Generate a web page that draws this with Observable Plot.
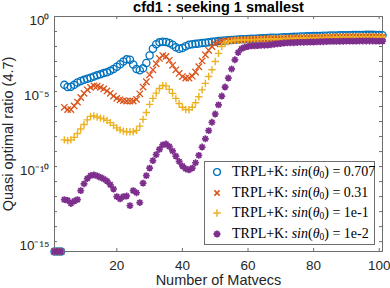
<!DOCTYPE html>
<html><head><meta charset="utf-8">
<script src="https://cdn.jsdelivr.net/npm/d3@7"></script>
<script src="https://cdn.jsdelivr.net/npm/@observablehq/plot@0.6"></script>
<style>
body{margin:0;background:#fff;}
#wrap{position:relative;width:390px;height:288px;overflow:hidden;}
#legend{position:absolute;left:204px;top:161px;width:171px;height:84px;border:1px solid #6e6e6e;background:#fff;font-family:"Liberation Serif","DejaVu Serif",serif;font-size:14px;color:#000;box-sizing:border-box;}
.row{position:absolute;left:0;height:20px;width:168px;}
.row svg{position:absolute;left:5px;top:3px;}
.row span{position:absolute;left:27px;top:1px;white-space:nowrap;line-height:18px;}
.row sub{font-size:9.5px;vertical-align:-2px;line-height:0;}
</style></head>
<body><div id="wrap"><div id="legend"></div></div>
<script>
const title = "cfd1 : seeking 1 smallest";
const xLabel = "Number of Matvecs";
const yLabel = "Quasi optimal ratio (4.7)";
const matvecs = d3.range(1, 102);
const xTicks = [20, 40, 60, 80, 100];
const yMajor = [1, 1e-5, 1e-10, 1e-15];
const yTickLabels = ["10⁰", "10⁻⁵", "10⁻¹⁰", "10⁻¹⁵"];
const yMinor = [1,1e-1,1e-2,1e-3,1e-4,1e-5,1e-6,1e-7,1e-8,1e-9,1e-10,1e-11,1e-12,1e-13,1e-14,1e-15];
const seriesNames = ["0.707", "0.31", "1e-1", "1e-2"];
const colors = ["#0072BD", "#D95319", "#EDB120", "#7E2F8E"];

const sin0707 = [2.2e-16,2.2e-16,2.2e-16,2.8e-5,2.0e-5,2.1e-5,2.8e-5,4.0e-5,5.0e-5,6.0e-5,
7.1e-5,8.3e-5,1.0e-4,1.2e-4,1.4e-4,1.7e-4,1.9e-4,2.4e-4,3.2e-4,4.5e-4,
6.6e-4,1.0e-3,1.4e-3,1.3e-3,6.3e-4,3.2e-4,2.6e-4,3.5e-4,7.9e-4,2.5e-3,
7.1e-3,1.4e-2,1.9e-2,2.1e-2,2.0e-2,1.7e-2,1.3e-2,8.9e-3,7.1e-3,7.9e-3,
1.05e-2,1.3e-2,1.4e-2,1.5e-2,1.6e-2,1.7e-2,1.8e-2,1.9e-2,2.1e-2,2.2e-2,
2.3e-2,2.4e-2,2.5e-2,2.6e-2,2.7e-2,2.8e-2,2.9e-2,3.0e-2,3.1e-2,3.2e-2,
3.3e-2,3.3e-2,3.4e-2,3.5e-2,3.6e-2,3.7e-2,3.8e-2,3.8e-2,3.9e-2,4.0e-2,
4.1e-2,4.2e-2,4.3e-2,4.4e-2,4.5e-2,4.6e-2,4.7e-2,4.8e-2,4.9e-2,5.0e-2,
5.1e-2,5.1e-2,5.2e-2,5.3e-2,5.4e-2,5.4e-2,5.5e-2,5.6e-2,5.6e-2,5.7e-2,
5.7e-2,5.8e-2,5.8e-2,5.9e-2,5.9e-2,6.0e-2,6.0e-2,6.0e-2,5.9e-2,5.8e-2,5.6e-2];

const sin031 = [2.2e-16,2.2e-16,2.2e-16,8.9e-7,6.3e-7,6.3e-7,1.1e-6,2.0e-6,4.0e-6,7.6e-6,
1.3e-5,1.9e-5,2.4e-5,2.3e-5,1.9e-5,1.5e-5,1.1e-5,7.6e-6,5.0e-6,3.5e-6,
2.8e-6,2.5e-6,2.3e-6,2.3e-6,2.3e-6,3.0e-6,7.1e-6,2.0e-5,4.5e-5,1.3e-4,
2.8e-4,7.1e-4,1.6e-3,2.5e-3,2.2e-3,1.2e-3,5.6e-4,2.8e-4,1.6e-4,1.0e-4,
7.9e-5,7.9e-5,1.05e-4,2.0e-4,4.5e-4,1.1e-3,2.8e-3,5.6e-3,1.0e-2,1.5e-2,
1.9e-2,2.2e-2,2.4e-2,2.5e-2,2.6e-2,2.7e-2,2.8e-2,2.8e-2,2.9e-2,3.0e-2,
3.0e-2,3.1e-2,3.1e-2,3.2e-2,3.2e-2,3.3e-2,3.3e-2,3.4e-2,3.4e-2,3.5e-2,
3.5e-2,3.6e-2,3.6e-2,3.7e-2,3.7e-2,3.8e-2,3.8e-2,3.9e-2,3.9e-2,4.0e-2,
4.0e-2,4.1e-2,4.1e-2,4.2e-2,4.2e-2,4.3e-2,4.3e-2,4.4e-2,4.4e-2,4.5e-2,
4.5e-2,4.5e-2,4.6e-2,4.6e-2,4.6e-2,4.6e-2,4.6e-2,4.6e-2,4.5e-2,4.5e-2,4.4e-2];

const sin1em1 = [2.2e-16,2.2e-16,2.2e-16,6.0e-9,5.4e-9,6.0e-9,8.9e-9,1.6e-8,3.2e-8,6.3e-8,
1.3e-7,2.2e-7,2.4e-7,2.0e-7,1.7e-7,1.5e-7,1.2e-7,8.5e-8,5.6e-8,3.8e-8,
2.8e-8,2.3e-8,2.1e-8,2.1e-8,2.1e-8,2.6e-8,5.0e-8,1.4e-7,4.0e-7,1.4e-6,
3.5e-6,7.9e-6,1.6e-5,2.5e-5,2.4e-5,1.4e-5,7.6e-6,3.5e-6,1.6e-6,8.9e-7,
6.3e-7,6.0e-7,8.9e-7,1.8e-6,4.5e-6,1.3e-5,3.5e-5,1.0e-4,2.8e-4,1.0e-3,
3.5e-3,1.0e-2,1.7e-2,2.1e-2,2.4e-2,2.5e-2,2.6e-2,2.7e-2,2.7e-2,2.8e-2,
2.8e-2,2.9e-2,2.9e-2,3.0e-2,3.0e-2,3.1e-2,3.1e-2,3.2e-2,3.2e-2,3.3e-2,
3.3e-2,3.4e-2,3.4e-2,3.5e-2,3.5e-2,3.6e-2,3.6e-2,3.7e-2,3.7e-2,3.8e-2,
3.8e-2,3.9e-2,3.9e-2,4.0e-2,4.0e-2,4.0e-2,4.1e-2,4.1e-2,4.1e-2,4.2e-2,
4.2e-2,4.2e-2,4.3e-2,4.3e-2,4.3e-2,4.3e-2,4.3e-2,4.3e-2,4.2e-2,4.2e-2,4.1e-2];

const sin1em2 = [2.2e-16,2.2e-16,2.2e-16,6.3e-13,5.6e-13,3.5e-13,5.0e-13,6.3e-13,2.5e-12,7.1e-12,
1.6e-11,2.5e-11,2.8e-11,2.4e-11,1.9e-11,1.5e-11,1.1e-11,6.3e-12,3.2e-12,1.0e-12,
7.1e-13,1.0e-12,1.1e-12,2.5e-13,2.5e-12,1.8e-12,4.0e-13,7.9e-12,2.5e-11,7.9e-11,
2.5e-10,6.3e-10,1.4e-9,2.8e-9,3.2e-9,2.2e-9,1.1e-9,5.0e-10,2.2e-10,1.1e-10,
7.1e-11,6.0e-11,7.9e-11,1.8e-10,5.6e-10,2.0e-9,7.1e-9,2.5e-8,8.9e-8,3.2e-7,
1.3e-6,5.0e-6,2.0e-5,7.9e-5,3.2e-4,1.3e-3,4.0e-3,7.1e-3,8.9e-3,1.0e-2,
1.1e-2,1.1e-2,1.15e-2,1.2e-2,1.2e-2,1.25e-2,1.3e-2,1.4e-2,1.5e-2,1.6e-2,
1.7e-2,1.75e-2,1.8e-2,1.8e-2,1.85e-2,1.9e-2,1.9e-2,1.95e-2,2.0e-2,2.0e-2,
2.05e-2,2.1e-2,2.1e-2,2.15e-2,2.2e-2,2.2e-2,2.2e-2,2.25e-2,2.25e-2,2.3e-2,
2.3e-2,2.3e-2,2.3e-2,2.35e-2,2.35e-2,2.35e-2,2.35e-2,2.35e-2,2.3e-2,2.3e-2,2.3e-2];

const allSeries = [sin0707, sin031, sin1em1, sin1em2];
const rows = allSeries.map(vals => matvecs.map((x, i) => ({x, y: vals[i]})));

const asterisk8 = {
  draw(ctx, size) {
    const r = Math.sqrt(size / Math.PI) * 1.15, d = r * 0.7071;
    ctx.moveTo(-r, 0); ctx.lineTo(r, 0);
    ctx.moveTo(0, -r); ctx.lineTo(0, r);
    ctx.moveTo(-d, -d); ctx.lineTo(d, d);
    ctx.moveTo(-d, d); ctx.lineTo(d, -d);
  }
};

const FW = 328, FH = 235, TL = 3;
const axisStroke = "#6e6e6e";

const chart = Plot.plot({
  width: 390, height: 288,
  marginTop: 16, marginBottom: 37, marginLeft: 54, marginRight: 8,
  style: {fontFamily: "'Liberation Sans', Arial, sans-serif", fontSize: "13.5px", color: "#262626", background: "white"},
  x: {domain: [1, 101]},
  y: {type: "log", domain: [2.2e-16, 1]},
  marks: [
    Plot.frame({stroke: axisStroke, strokeWidth: 1}),
    Plot.tickX(xTicks, {x: d => d, insetTop: FH - TL, stroke: axisStroke}),
    Plot.tickX(xTicks, {x: d => d, insetBottom: FH - TL, stroke: axisStroke}),
    Plot.tickY(yMinor, {y: d => d, insetRight: FW - TL, stroke: axisStroke}),
    Plot.tickY(yMinor, {y: d => d, insetLeft: FW - TL, stroke: axisStroke}),
    Plot.axisX(xTicks, {tickSize: 0, tickPadding: 9, fontSize: 13.5, label: null}),
    Plot.axisY(yMajor, {tickSize: 0, tickPadding: 5, fontSize: 13.5, dy: 4, label: null,
      tickFormat: d => yTickLabels[yMajor.indexOf(d)]}),
    Plot.dot(rows[0], {x: "x", y: "y", symbol: "circle", r: 3.6, stroke: colors[0], strokeWidth: 1.3, fill: "none"}),
    Plot.dot(rows[1], {x: "x", y: "y", symbol: "times", r: 3, stroke: colors[1], strokeWidth: 1.3}),
    Plot.dot(rows[2], {x: "x", y: "y", symbol: "plus", r: 2.5, stroke: colors[2], strokeWidth: 1.4}),
    Plot.dot(rows[3], {x: "x", y: "y", symbol: asterisk8, r: 3, stroke: colors[3], strokeWidth: 1.7, fill: "none"}),
    Plot.text([title], {text: d => d, frameAnchor: "top", lineAnchor: "middle", textAnchor: "middle", dy: -9, fontSize: 14.5, fontWeight: "bold", fill: "#000"}),
    Plot.text([xLabel], {text: d => d, frameAnchor: "bottom", lineAnchor: "middle", textAnchor: "middle", dy: 28.5, fontSize: 14.5, fill: "#262626"}),
    Plot.text([yLabel], {text: d => d, frameAnchor: "left", lineAnchor: "middle", textAnchor: "middle", dx: -46.5, rotate: -90, fontSize: 14.5, fill: "#262626"})
  ]
});
document.getElementById("wrap").prepend(chart);

// legend
const legend = document.getElementById("legend");
const rowTops = [0, 20.7, 41.3, 62.3];
const markerSvg = [
  c => `<circle cx="7" cy="7" r="3.4" fill="none" stroke="${c}" stroke-width="1.4"/>`,
  c => `<path d="M4.4,4.4L9.6,9.6M4.4,9.6L9.6,4.4" stroke="${c}" stroke-width="1.5"/>`,
  c => `<path d="M3.2,7H10.8M7,3.2V10.8" stroke="${c}" stroke-width="1.5"/>`,
  c => `<path d="M3.5,7H10.5M7,3.5V10.5M4.5,4.5L9.5,9.5M4.5,9.5L9.5,4.5" stroke="${c}" stroke-width="1.8"/>`
];
seriesNames.forEach((name, i) => {
  const row = document.createElement("div");
  row.className = "row";
  row.style.top = rowTops[i] + "px";
  row.innerHTML = `<svg width="14" height="14">${markerSvg[i](colors[i])}</svg>` +
    `<span>TRPL+K: <i>sin</i>(<i>θ</i><sub>0</sub>) = ${name}</span>`;
  legend.appendChild(row);
});
</script>
</body></html>
